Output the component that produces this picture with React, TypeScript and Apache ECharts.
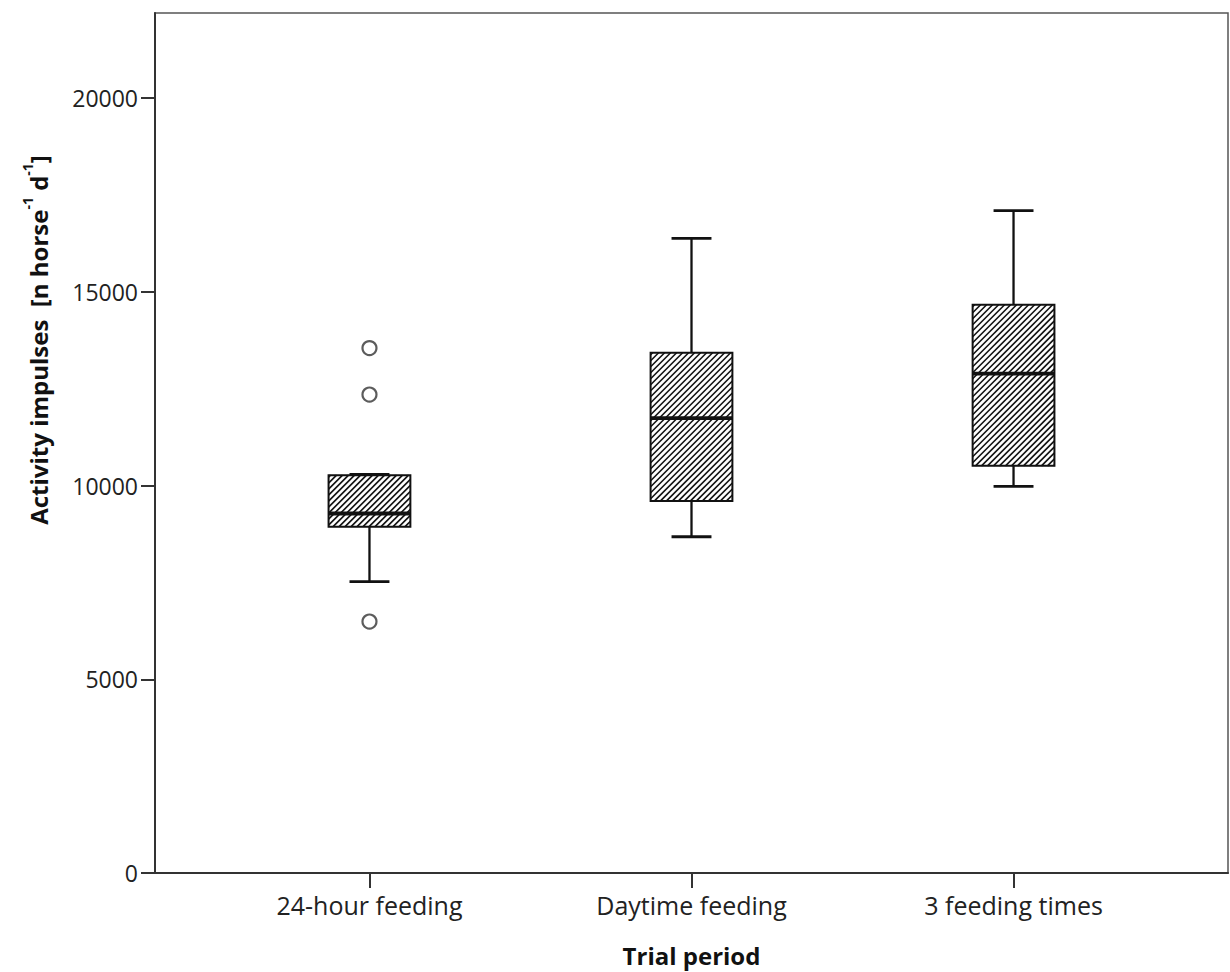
import React, { useEffect, useRef } from "react";
import * as echarts from "echarts";

const categories = ["24-hour feeding", "Daytime feeding", "3 feeding times"];
const lowerWhisker = [7520, 8680, 9980];
const q1 = [8940, 9600, 10510];
const median = [9280, 11740, 12890];
const q3 = [10270, 13430, 14670];
const upperWhisker = [10290, 16380, 17100];
const outliers: [number, number][] = [
  [1, 13550],
  [1, 12350],
  [1, 6490],
];
const yTicks = [0, 5000, 10000, 15000, 20000];

const FONT = "'Open Sans', Lato, sans-serif";

export default function App() {
  const ref = useRef<HTMLDivElement>(null);
  useEffect(() => {
    if (!ref.current) return;
    const chart = echarts.init(ref.current, null, { renderer: "svg" });
    const boxData = categories.map((_, i) => [
      i + 1,
      lowerWhisker[i],
      q1[i],
      median[i],
      q3[i],
      upperWhisker[i],
    ]);
    const renderItem = (params: any, api: any) => {
      const x = api.value(0);
      const pLo = api.coord([x, api.value(1)]);
      const pQ1 = api.coord([x, api.value(2)]);
      const pMed = api.coord([x, api.value(3)]);
      const pQ3 = api.coord([x, api.value(4)]);
      const pHi = api.coord([x, api.value(5)]);
      const cx = pLo[0];
      const hw = api.size([0.254, 0])[0] / 2;
      const cw = api.size([0.124, 0])[0] / 2;
      const x0 = cx - hw;
      const x1 = cx + hw;
      const y0 = pQ3[1];
      const y1 = pQ1[1];
      const children: any[] = [];
      children.push({
        type: "rect",
        shape: { x: x0, y: y0, width: x1 - x0, height: y1 - y0 },
        style: { fill: "#fff", stroke: null },
      });
      const step = 6;
      for (let c = x0 + y0 + 2; c < x1 + y1; c += step) {
        const xa = Math.max(x0, c - y1);
        const xb = Math.min(x1, c - y0);
        if (xb - xa < 0.5) continue;
        children.push({
          type: "line",
          shape: { x1: xa, y1: c - xa, x2: xb, y2: c - xb },
          style: { stroke: "#111", lineWidth: 1.6 },
        });
      }
      children.push({
        type: "rect",
        shape: { x: x0, y: y0, width: x1 - x0, height: y1 - y0 },
        style: { fill: null, stroke: "#111", lineWidth: 2 },
      });
      const line = (ax: number, ay: number, bx: number, by: number, w: number) => ({
        type: "line",
        shape: { x1: ax, y1: ay, x2: bx, y2: by },
        style: { stroke: "#111", lineWidth: w },
      });
      children.push(line(cx, pQ3[1], cx, pHi[1], 2.3));
      children.push(line(cx, pQ1[1], cx, pLo[1], 2.3));
      children.push(line(cx - cw, pHi[1], cx + cw, pHi[1], 2.8));
      children.push(line(cx - cw, pLo[1], cx + cw, pLo[1], 2.8));
      children.push(line(x0, pMed[1], x1, pMed[1], 3.8));
      return { type: "group", children };
    };

    chart.setOption({
      animation: false,
      backgroundColor: "#fff",
      grid: {
        left: 155,
        right: 2,
        top: 13,
        bottom: 97,
        show: true,
        borderColor: "#555",
        borderWidth: 1.5,
        backgroundColor: "transparent",
      },
      xAxis: {
        type: "value",
        min: 0.334,
        max: 3.666,
        name: "Trial period",
        nameLocation: "middle",
        nameGap: 70,
        nameTextStyle: {
          fontFamily: FONT,
          fontWeight: "bold",
          fontSize: 24,
          color: "#111",
        },
        splitLine: { show: false },
        axisLine: { show: true, lineStyle: { color: "#333", width: 2 } },
        axisTick: {
          show: true,
          length: 15,
          customValues: [1, 2, 3],
          lineStyle: { color: "#333", width: 2 },
        },
        axisLabel: {
          customValues: [1, 2, 3],
          margin: 19,
          fontFamily: FONT,
          fontSize: 25,
          color: "#222",
          formatter: (v: number) => categories[Math.round(v) - 1] ?? "",
        },
      },
      yAxis: {
        type: "value",
        min: 0,
        max: 22200,
        splitLine: { show: false },
        axisLine: { show: true, lineStyle: { color: "#333", width: 2 } },
        axisTick: {
          show: true,
          length: 14,
          customValues: yTicks,
          lineStyle: { color: "#333", width: 2 },
        },
        axisLabel: {
          customValues: yTicks,
          margin: 17,
          fontFamily: FONT,
          fontSize: 23,
          color: "#222",
          formatter: (v: number) => String(v),
        },
      },
      graphic: [
        {
          type: "text",
          x: 35,
          y: 340,
          rotation: Math.PI / 2,
          style: {
            text: "{b|Activity impulses  [n horse}{s|-1}{b| d}{s|-1}{b|]}",
            align: "center",
            verticalAlign: "middle",
            rich: {
              b: {
                fontFamily: FONT,
                fontWeight: "bold",
                fontSize: 24,
                lineHeight: 30,
                fill: "#111",
                verticalAlign: "bottom",
              },
              s: {
                fontFamily: FONT,
                fontWeight: "bold",
                fontSize: 14,
                lineHeight: 30,
                fill: "#111",
                verticalAlign: "top",
              },
            },
          },
        },
      ],
      series: [
        {
          type: "custom",
          renderItem,
          data: boxData,
          encode: { x: 0, y: [1, 2, 3, 4, 5] },
          z: 2,
        },
        {
          type: "scatter",
          data: outliers,
          symbol: "circle",
          symbolSize: 14,
          itemStyle: { color: "#fff", borderColor: "#333", borderWidth: 2.2 },
          z: 3,
        },
      ],
    });
    return () => chart.dispose();
  }, []);
  return (
    <div
      ref={ref}
      style={{ position: "fixed", left: 0, top: 0, width: 1230, height: 972 }}
    />
  );
}
